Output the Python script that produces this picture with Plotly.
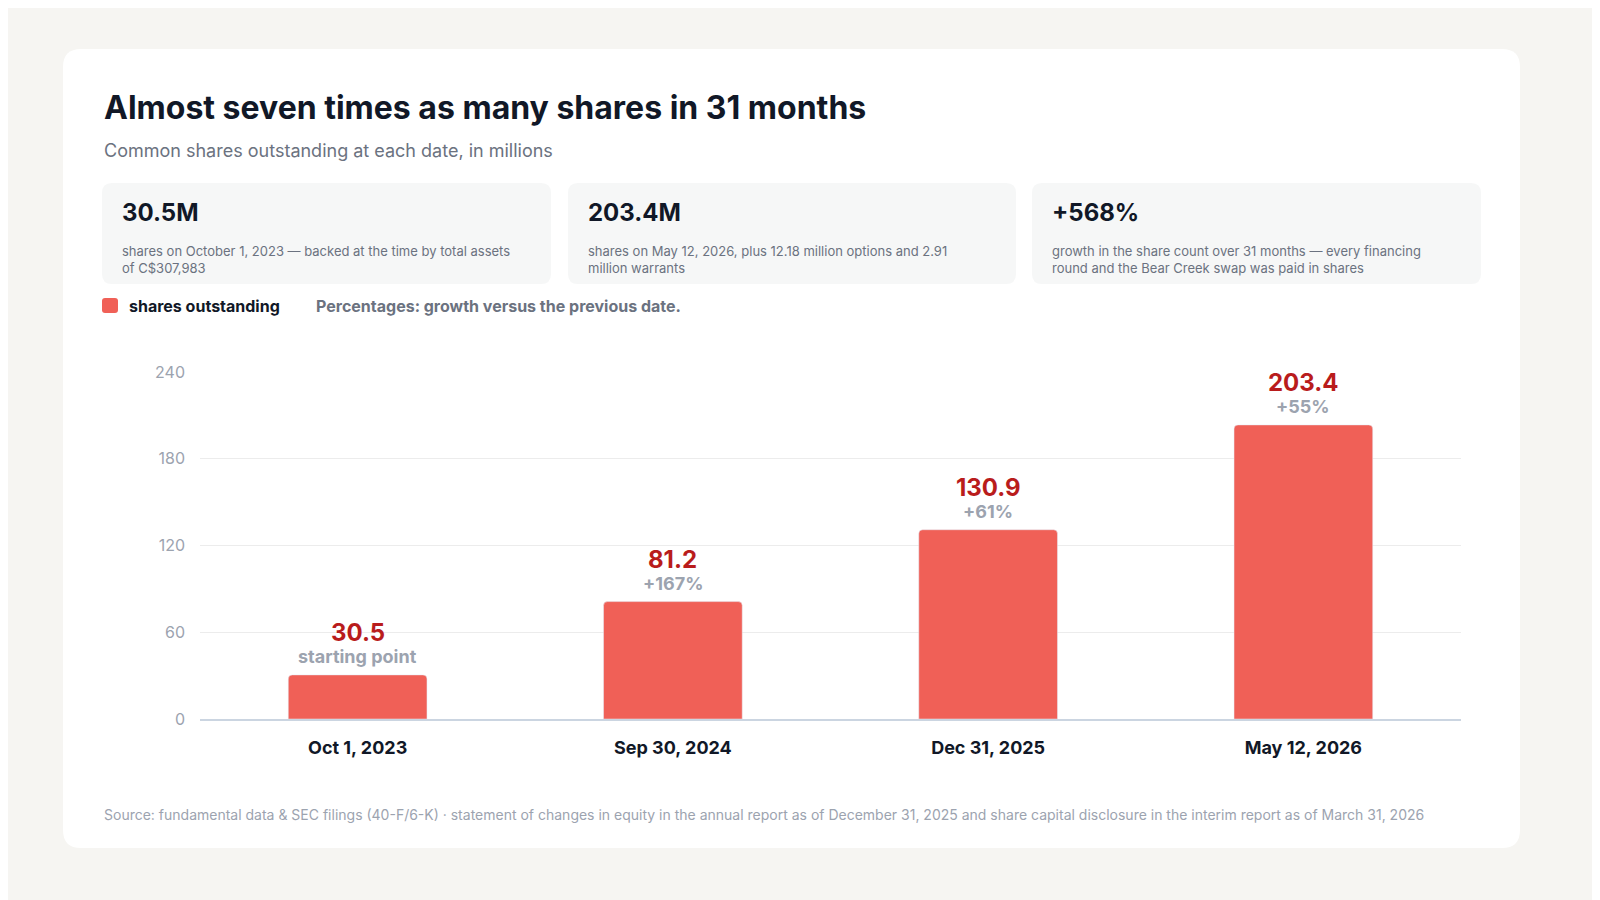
import plotly.graph_objects as go

dates = ["Oct 1, 2023", "Sep 30, 2024", "Dec 31, 2025", "May 12, 2026"]
shares_m = [30.5, 81.2, 130.9, 203.4]
growth_labels = ["starting point", "+167%", "+61%", "+55%"]
y_ticks = [0, 60, 120, 180, 240]

kpi_values = ["30.5M", "203.4M", "+568%"]
kpi_texts = [
    "shares on October 1, 2023 — backed at the time by total assets<br>of C$307,983",
    "shares on May 12, 2026, plus 12.18 million options and 2.91<br>million warrants",
    "growth in the share count over 31 months — every financing<br>round and the Bear Creek swap was paid in shares",
]

W, H = 1600, 900
L, R, T, B = 192, 1453, 364, 711
FONT = "Inter, Noto Sans, sans-serif"
BAR = "#f06057"


def px(x):
    return (x - L) / (R - L)


def py(y):
    return (B - y) / (B - T)


def rrect(x0, y0, x1, y1, r):
    # rounded rectangle path in paper coords, input in pixels
    a, b, c, d = px(x0), py(y0), px(x1), py(y1)
    rx, ry = r / (R - L), r / (B - T)
    return (f"M{a+rx},{b} L{c-rx},{b} Q{c},{b} {c},{b-ry} L{c},{d+ry} Q{c},{d} {c-rx},{d} "
            f"L{a+rx},{d} Q{a},{d} {a},{d+ry} L{a},{b-ry} Q{a},{b} {a+rx},{b} Z")


fig = go.Figure()
fig.add_trace(go.Bar(x=dates, y=shares_m, marker_color=BAR, width=0.44,
                     showlegend=False, hoverinfo="x+y"))

shapes = [
    dict(type="path", path=rrect(55, 41, 1512, 840, 18), xref="paper", yref="paper",
         fillcolor="white", line_width=0, layer="below"),
]
kpi_x = [(94, 543), (560, 1008), (1024, 1473)]
ann = []
for (x0, x1), v, t in zip(kpi_x, kpi_values, kpi_texts):
    shapes.append(dict(type="path", path=rrect(x0, 175, x1, 276, 10), xref="paper", yref="paper",
                       fillcolor="#f6f7f7", line_width=0, layer="below"))
    ann.append(dict(x=px(x0 + 18), y=py(205), text=f"<b>{v}</b>", xanchor="left", yanchor="middle",
                    font=dict(size=24, color="#111827")))
    ann.append(dict(x=px(x0 + 18), y=py(233), text=t, xanchor="left", yanchor="top", align="left",
                    font=dict(size=13, color="#6b7280")))

shapes.append(dict(type="path", path=rrect(94, 290, 110, 305, 3), xref="paper", yref="paper",
                   fillcolor=BAR, line_width=0))

ann += [
    dict(x=px(94), y=py(99), text="<b>Almost seven times as many shares in 31 months</b>",
         xanchor="left", yanchor="middle", font=dict(size=32, color="#111827")),
    dict(x=px(94), y=py(143), text="Common shares outstanding at each date, in millions",
         xanchor="left", yanchor="middle", font=dict(size=18, color="#6b7280")),
    dict(x=px(119), y=py(298), text="<b>shares outstanding</b>", xanchor="left", yanchor="middle",
         font=dict(size=16, color="#111827")),
    dict(x=px(306), y=py(298), text="<b>Percentages: growth versus the previous date.</b>",
         xanchor="left", yanchor="middle", font=dict(size=16, color="#6b7280")),
    dict(x=px(94), y=py(806), text="Source: fundamental data & SEC filings (40-F/6-K) · statement of changes in equity in the annual report as of December 31, 2025 and share capital disclosure in the interim report as of March 31, 2026",
         xanchor="left", yanchor="middle", font=dict(size=14, color="#9ca3af")),
]
for d, v, g in zip(dates, shares_m, growth_labels):
    ann.append(dict(x=d, y=v, xref="x", yref="y", text=f"<b>{v}</b>", yshift=42, showarrow=False,
                    yanchor="middle", font=dict(size=24, color="#b91c1c")))
    ann.append(dict(x=d, y=v, xref="x", yref="y", text=f"<b>{g}</b>", yshift=18, showarrow=False,
                    yanchor="middle", font=dict(size=18, color="#9ca3af")))
for a in ann:
    a.setdefault("xref", "paper")
    a.setdefault("yref", "paper")
    a.setdefault("showarrow", False)

fig.update_layout(
    width=W, height=H,
    margin=dict(l=L, r=W - R, t=T, b=H - B),
    paper_bgcolor="#f6f5f2", plot_bgcolor="white",
    font=dict(family=FONT),
    shapes=shapes, annotations=ann,
    barcornerradius=4,
    bargap=0.56,
    xaxis=dict(tickfont=dict(size=18, color="#111827", weight="bold"), showgrid=False,
               showline=True, linecolor="#cbd5e1", linewidth=1.5, ticks="", ticklabelstandoff=12),
    yaxis=dict(range=[0, 240], tickvals=y_ticks, tickfont=dict(size=16, color="#9ca3af"),
               gridcolor="#ececec", zeroline=False, ticks="", ticklabelstandoff=14),
)
fig.update_traces(cliponaxis=False)

fig.write_html("out.html")
